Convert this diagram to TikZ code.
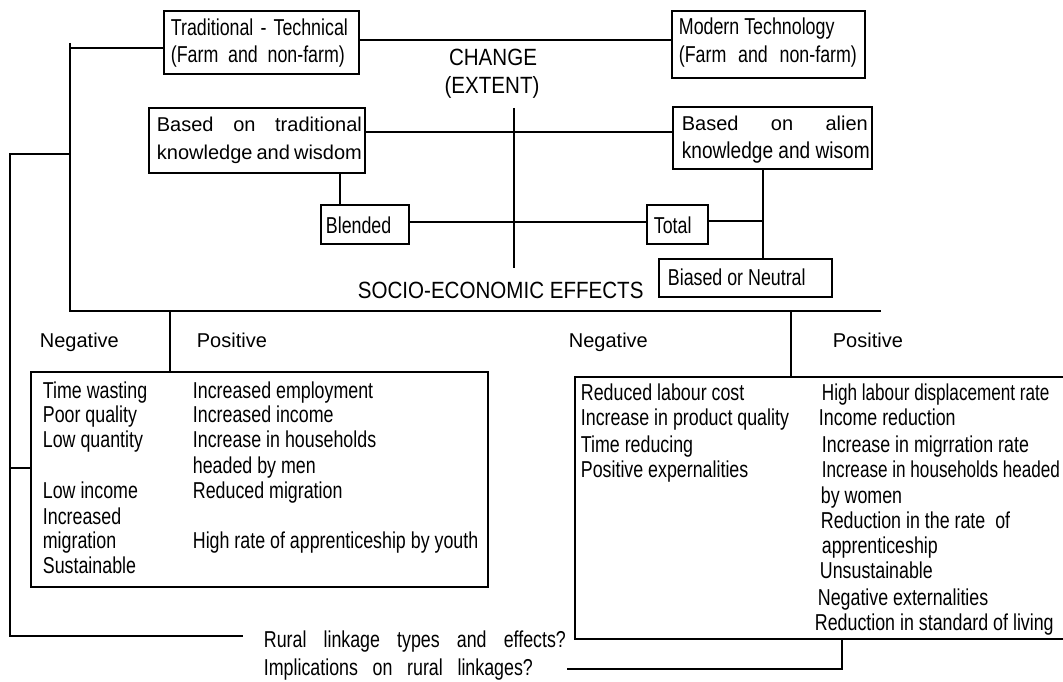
\documentclass[tikz,border=0pt]{standalone}
\usepackage{fontspec}
\setmainfont{Liberation Sans}
\newfontfamily\nar{Liberation Sans}[FakeStretch=0.775]
\newfontfamily\narr{Liberation Sans}[FakeStretch=0.745]
\newfontfamily\alf{Liberation Sans}[FakeStretch=0.83]
\newfontfamily\capf{Liberation Sans}[FakeStretch=0.875]
\begin{document}
\begin{tikzpicture}[x=1pt,y=-1pt,line width=1.8pt,
  box/.style={draw,line width=1.8pt,inner sep=0pt,anchor=north west},
  txt/.style={anchor=base west,inner sep=0pt,font=\nar\fontsize{23pt}{25pt}\selectfont},
  txtn/.style={anchor=base west,inner sep=0pt,font=\narr\fontsize{23pt}{25pt}\selectfont},
  txta/.style={anchor=base west,inner sep=0pt,font=\alf\fontsize{23pt}{25pt}\selectfont},
  reg/.style={anchor=base west,inner sep=0pt,font=\fontsize{20pt}{24pt}\selectfont},
  capt/.style={inner sep=0pt,font=\capf\fontsize{23.5pt}{28pt}\selectfont}]
\useasboundingbox (0,0) rectangle (1063,682);
\clip (0,0) rectangle (1063,682);

% boxes
\node[box,minimum width=195pt,minimum height=63pt] (trad) at (163,10) {};
\node[box,minimum width=193pt,minimum height=67pt] (modern) at (671,10) {};
\node[box,minimum width=216pt,minimum height=65pt] (btrad) at (148,107) {};
\node[box,minimum width=199pt,minimum height=62pt] (alien) at (672,106) {};
\node[box,minimum width=88pt,minimum height=39pt] (blended) at (320,204) {};
\node[box,minimum width=61pt,minimum height=39pt] (total) at (646,204) {};
\node[box,minimum width=173pt,minimum height=38pt] (biased) at (658,258) {};
\node[box,minimum width=457pt,minimum height=215pt] (lbox) at (30,371) {};
\node[box,minimum width=520pt,minimum height=262pt] (rbox) at (574,376) {};

% box texts
\node[txt] (t1) at (170,36) {\makebox[177pt][s]{Traditional - Technical}};
\node[txt] (t2) at (170,63) {\makebox[174pt][s]{(Farm and non-farm)}};
\node[txt] (m1) at (678,35) {Modern Technology};
\node[txt] (m2) at (678,63) {\makebox[178pt][s]{(Farm and non-farm)}};
\node[reg] (b1) at (156,132) {\makebox[205pt][s]{Based on traditional}};
\node[reg] (b2) at (156,160) {\makebox[205pt][s]{knowledge and wisdom}};
\node[reg] (a1) at (681,131) {\makebox[186pt][s]{Based on alien}};
\node[txta] (a2) at (681,159) {knowledge and wisom};
\node[txt] (bl) at (325,233) {Blended};
\node[txt] (to) at (653,233) {Total};
\node[txt] (bi) at (667,285) {Biased or Neutral};

\node[capt,anchor=base] (ch1) at (493,66) {CHANGE};
\node[capt,anchor=base] (ch2) at (492,94) {(EXTENT)};
\node[capt,anchor=base west] (soc) at (357,298) {SOCIO-ECONOMIC EFFECTS};

\node[reg] (n1) at (39,347) {Negative};
\node[reg] (p1) at (196,347) {Positive};
\node[reg] (n2) at (568,347) {Negative};
\node[reg] (p2) at (832,347) {Positive};

% left box lists
\foreach \t/\y [count=\i] in {Time wasting/398,Poor quality/422,Low quantity/447,Low income/498,Increased/524,migration/548,Sustainable/573}
  \node[txt] (ln\i) at (42,\y) {\t};
\foreach \t/\y [count=\i] in {Increased employment/398,Increased income/422,Increase in households/447,headed by men/473,Reduced migration/498,High rate of apprenticeship by youth/548}
  \node[txt] (lp\i) at (192,\y) {\t};

% right box lists
\foreach \t/\y [count=\i] in {Reduced labour cost/400,Increase in product quality/425,Time reducing/452,Positive expernalities/477}
  \node[txt] (rn\i) at (580,\y) {\t};
\foreach \t/\x/\y [count=\i] in {Income reduction/818/425,Increase in migrration rate/821/452,by women/820/503,Reduction in the rate~ of/820/528,apprenticeship/821/553,Unsustainable/819/578,Negative externalities/817/605,Reduction in standard of living/814/630}
  \node[txt] (rp\i) at (\x,\y) {\t};
\node[txtn] (rp0) at (821,400) {High labour displacement rate};
\node[txtn] (rph) at (821,477) {Increase in households headed};

% rural texts
\node[txt] (q1) at (263,647) {\makebox[302pt][s]{Rural linkage types and effects?}};
\node[txt] (q2) at (263,675) {\makebox[269pt][s]{Implications on rural linkages?}};

% connectors
\draw (trad.east |- 0,40) -- (modern.west |- 0,40);
\draw (btrad.east |- 0,132) -- (alien.west |- 0,132);
\coordinate (ctop) at (514,108);
\coordinate (cbot) at (514,268);
\draw (ctop) -- (cbot);
\draw (btrad.south -| 340,0) -- (blended.north -| 340,0);
\draw (blended.east |- 0,222) -- (total.west |- 0,222);
\coordinate (jn) at (763,221);
\draw (total.east |- jn) -- (jn);
\draw (alien.south -| jn) -- (biased.north -| jn);

\coordinate (lt) at (70,43);
\coordinate (lc) at (70,311);
\coordinate (hr) at (881,311);
\draw (lt) -- (lc) -- (hr);
\draw (70,48) -- (trad.west |- 0,48);
\coordinate (ob) at (10,636);
\draw (70,154) -- (10,154) -- (ob) -- (243,636);
\draw (10,468) -- (lbox.west |- 0,468);
\draw (170,311) -- (lbox.north -| 170,0);
\draw (791,311) -- (rbox.north -| 791,0);
\coordinate (rb) at (842,669);
\draw (rbox.south -| rb) -- (rb) -- (567,669);
\end{tikzpicture}
\end{document}
